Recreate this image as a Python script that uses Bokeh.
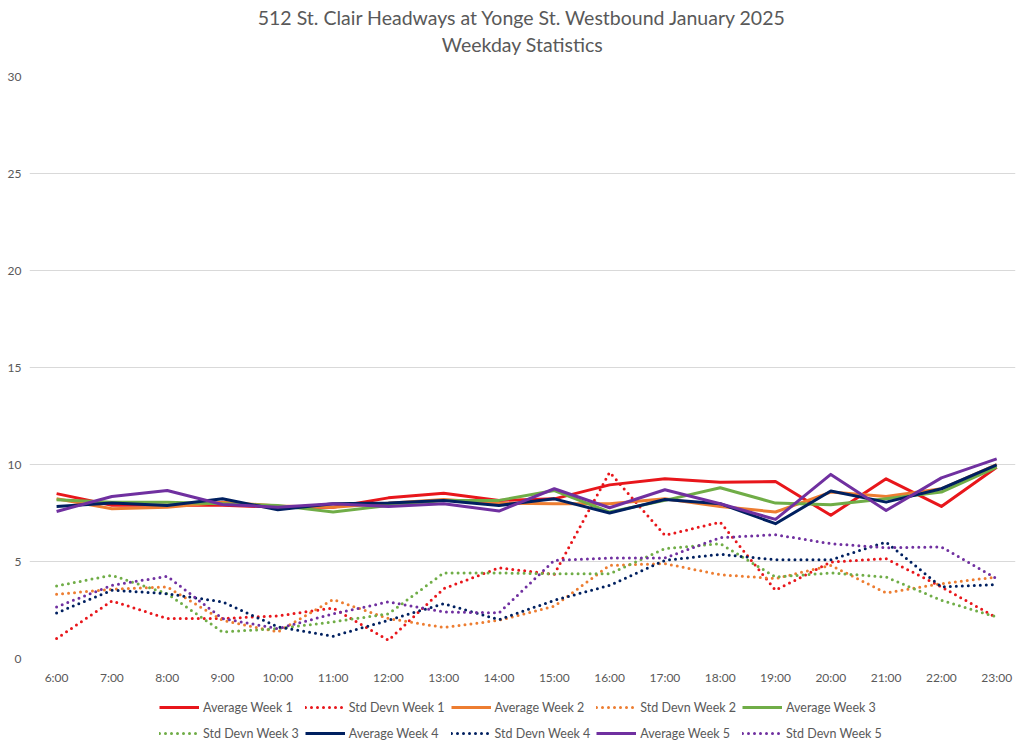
from bokeh.plotting import figure
from bokeh.models import Title, Legend, LegendItem, FixedTicker, Range1d
from bokeh.layouts import column
from bokeh.embed import file_html
from bokeh.resources import INLINE

hours = ["6:00", "7:00", "8:00", "9:00", "10:00", "11:00", "12:00", "13:00", "14:00",
         "15:00", "16:00", "17:00", "18:00", "19:00", "20:00", "21:00", "22:00", "23:00"]

avg_w1 = [8.5, 7.9, 7.9, 7.9, 7.8, 7.8, 8.28, 8.52, 8.15, 8.23, 8.95, 9.26, 9.09, 9.12, 7.38, 9.26, 7.84, 9.86]
std_w1 = [1.03, 2.97, 2.06, 2.06, 2.2, 2.6, 0.94, 3.6, 4.67, 4.34, 9.6, 6.35, 7.03, 3.52, 4.97, 5.15, 3.69, 2.1]
avg_w2 = [8.23, 7.72, 7.8, 8.06, 7.86, 7.8, 8.0, 8.2, 8.0, 7.98, 7.98, 8.23, 7.84, 7.55, 8.58, 8.35, 8.75, 10.0]
std_w2 = [3.31, 3.57, 3.69, 1.97, 1.37, 3.04, 2.06, 1.6, 1.97, 2.7, 4.8, 4.89, 4.32, 4.12, 4.8, 3.38, 3.86, 4.2]
avg_w3 = [8.18, 8.06, 8.06, 7.98, 7.89, 7.55, 7.89, 8.15, 8.15, 8.66, 7.55, 8.15, 8.8, 8.01, 7.92, 8.23, 8.58, 9.86]
std_w3 = [3.74, 4.29, 3.34, 1.37, 1.54, 1.89, 2.3, 4.41, 4.41, 4.37, 4.37, 5.66, 5.92, 4.2, 4.41, 4.2, 3.0, 2.14]
avg_w4 = [7.84, 8.01, 7.89, 8.23, 7.67, 7.98, 8.01, 8.15, 7.89, 8.23, 7.5, 8.2, 7.98, 6.95, 8.63, 8.06, 8.75, 9.98]
std_w4 = [2.35, 3.52, 3.34, 2.92, 1.63, 1.15, 1.97, 2.83, 2.0, 3.0, 3.77, 5.06, 5.37, 5.09, 5.09, 6.0, 3.69, 3.81]
avg_w5 = [7.58, 8.35, 8.66, 7.94, 7.8, 7.98, 7.84, 7.98, 7.6, 8.75, 7.77, 8.7, 7.98, 7.17, 9.49, 7.63, 9.31, 10.29]
std_w5 = [2.66, 3.77, 4.24, 2.06, 1.54, 2.3, 2.92, 2.4, 2.35, 5.06, 5.18, 5.18, 6.23, 6.38, 5.92, 5.71, 5.75, 4.12]

y_ticks = [0, 5, 10, 15, 20, 25, 30]

series = [
    ("Average Week 1", avg_w1, "#E8161B", False),
    ("Std Devn Week 1", std_w1, "#E8161B", True),
    ("Average Week 2", avg_w2, "#ED7D31", False),
    ("Std Devn Week 2", std_w2, "#ED7D31", True),
    ("Average Week 3", avg_w3, "#70AD47", False),
    ("Std Devn Week 3", std_w3, "#70AD47", True),
    ("Average Week 4", avg_w4, "#002060", False),
    ("Std Devn Week 4", std_w4, "#002060", True),
    ("Average Week 5", avg_w5, "#7030A0", False),
    ("Std Devn Week 5", std_w5, "#7030A0", True),
]

FONT = "Lato"
GREY = "#595959"
W = 1016

x = list(range(len(hours)))

p = figure(width=W, height=690, output_backend="svg", toolbar_location=None,
           x_range=Range1d(-0.49, 17.34), y_range=Range1d(0, 30),
           min_border_left=29, min_border_right=1, min_border_top=76, min_border_bottom=32)
p.outline_line_color = None
p.background_fill_color = "white"
p.border_fill_color = "white"

p.xgrid.grid_line_color = None
p.ygrid.grid_line_color = "#D9D9D9"
p.ygrid.grid_line_width = 1

p.yaxis.ticker = FixedTicker(ticks=y_ticks)
p.xaxis.ticker = FixedTicker(ticks=x)
p.xaxis.major_label_overrides = {i: h for i, h in enumerate(hours)}
for ax in (p.xaxis, p.yaxis):
    ax.axis_line_color = None
    ax.major_tick_line_color = None
    ax.minor_tick_line_color = None
    ax.major_tick_out = 0
    ax.major_tick_in = 0
    ax.major_label_text_color = GREY
    ax.major_label_text_font = FONT
    ax.major_label_text_font_size = "12px"
p.yaxis.major_label_standoff = 8
p.xaxis.major_label_standoff = 11

for name, vals, col, dotted in series:
    if dotted:
        p.line(x, vals, line_color=col, line_width=3, line_dash="0 6", line_cap="round")
    else:
        p.line(x, vals, line_color=col, line_width=3, line_join="round")

spacer = Title(text=" ", align="center", text_font=FONT, text_font_size="2px", standoff=16)
t2 = Title(text="Weekday Statistics", align="center", text_font=FONT,
           text_font_size="19.5px", text_font_style="normal", text_color=GREY,
           standoff=2)
t1 = Title(text="512 St. Clair Headways at Yonge St. Westbound January 2025", align="center",
           text_font=FONT, text_font_size="19.5px", text_font_style="normal",
           text_color=GREY, standoff=1)
p.add_layout(spacer, "above")
p.add_layout(t2, "above")
p.add_layout(t1, "above")

# legend strip below the chart
lf = figure(width=W, height=55, output_backend="svg", toolbar_location=None,
            x_axis_type=None, y_axis_type=None, x_range=Range1d(0, 1), y_range=Range1d(0, 1),
            min_border_left=0, min_border_right=0, min_border_top=0, min_border_bottom=0)
lf.outline_line_color = None
lf.xgrid.grid_line_color = None
lf.ygrid.grid_line_color = None
items = []
for name, vals, col, dotted in series:
    # invisible proxy (off-range) only used for the legend key
    if dotted:
        r = lf.line(x=[0], y=[-1], line_color=col, line_width=3, line_dash="0 6", line_cap="round")
    else:
        r = lf.line(x=[0], y=[-1], line_color=col, line_width=3)
    items.append(LegendItem(label=name, renderers=[r]))

legend = Legend(items=items, orientation="horizontal", ncols=5, location=(130, 2),
                glyph_width=40, glyph_height=20, label_height=20,
                label_standoff=4, spacing=6, padding=2, margin=0,
                label_text_font=FONT, label_text_font_size="12.5px",
                label_text_color=GREY, border_line_color=None,
                background_fill_alpha=0)
lf.add_layout(legend, "center")

layout = column(p, lf, spacing=0)
open("out.html", "w").write(file_html(layout, INLINE))
